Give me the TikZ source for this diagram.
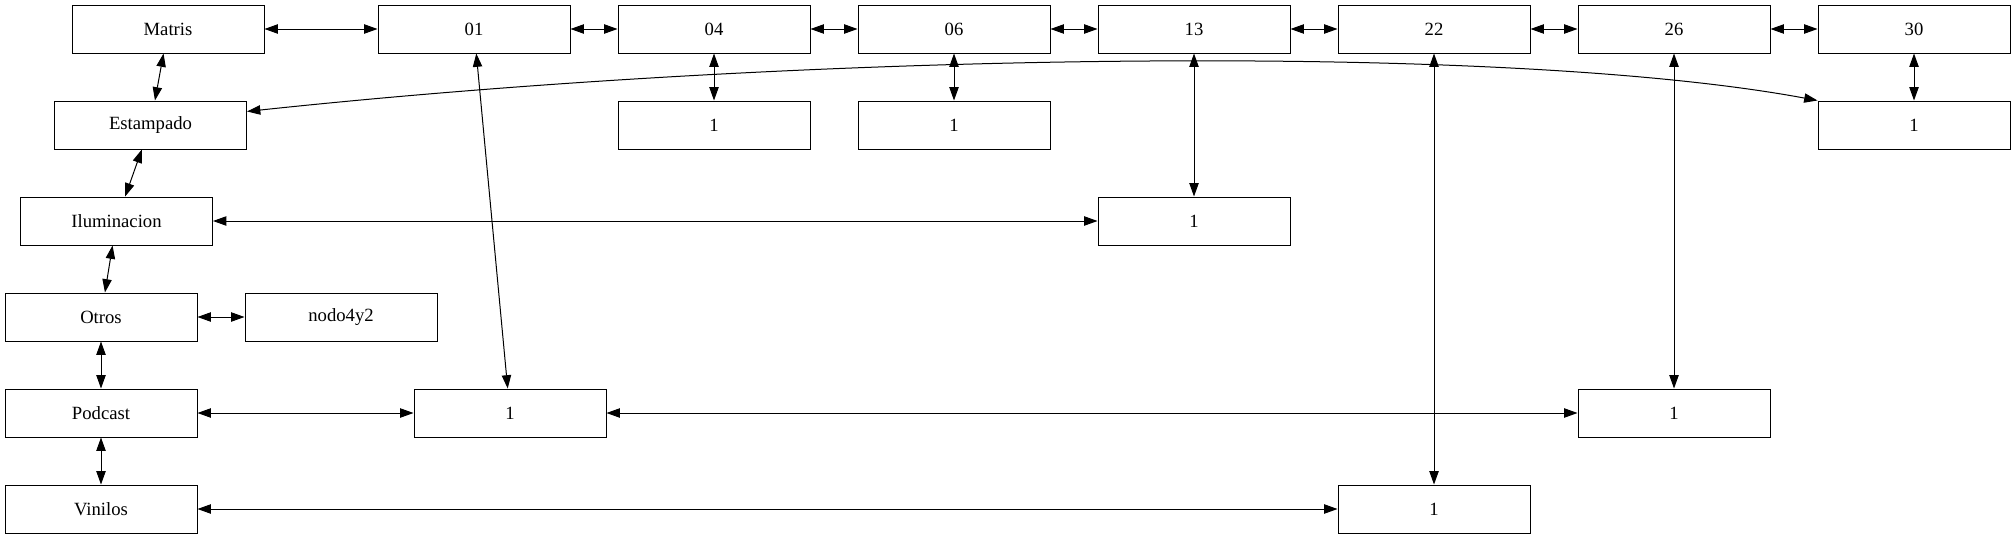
\documentclass[tikz,border=0pt]{standalone}
\usepackage{fontspec}
\setmainfont{Liberation Serif}
\usepackage{tikz}
\usetikzlibrary{arrows.meta}
\tikzset{
  box/.style={draw, line width=0.75pt, minimum width=144pt, minimum height=36pt, inner sep=0pt, font=\fontsize{14}{16}\selectfont},
  tip/.style={Triangle[length=10pt,width=7pt]},
  link/.style={draw, line width=0.75pt, {Triangle[length=10pt,width=7pt]}-{Triangle[length=10pt,width=7pt]}},
}
\begin{document}
\begin{tikzpicture}[x=0.75pt,y=-0.75pt]
  \useasboundingbox (0,0) rectangle (2016,539);
  % head row
  \node[box] (matris) at (168,29) {Matris};
  \foreach \n/\x in {01/474,04/714,06/954,13/1194,22/1434,26/1674,30/1914}
    \node[box] (c\n) at (\x,29) {\n};
  % row heads
  \node[box] (estampado) at (150.5,125) {Estampado};
  \node[box] (iluminacion) at (116.5,221) {Iluminacion};
  \node[box] (otros) at (101,317) {Otros};
  \node[box] (nodo) at (341,317) {nodo4y2};
  \node[box] (podcast) at (101,413) {Podcast};
  \node[box] (vinilos) at (101,509) {Vinilos};
  % values
  \foreach \n/\x/\y in {04/714/125,06/954/125,30/1914/125,13/1194/221,01/510/413,26/1674/413,22/1434/509}
    \node[box] (v\n) at (\x,\y) {1};
  % links
  \foreach \a/\b in {matris/c01,c01/c04,c04/c06,c06/c13,c13/c22,c22/c26,c26/c30,
                     matris/estampado,estampado/iluminacion,iluminacion/otros,otros/podcast,podcast/vinilos,
                     otros/nodo,c04/v04,c06/v06,c30/v30,c13/v13,iluminacion/v13,
                     c01/v01,podcast/v01,v01/v26,c26/v26,c22/v22,vinilos/v22}
    \draw[link] (\a) -- (\b);
  \draw[link] (estampado.8) .. controls +(553,-59) and +(-318,-59) .. (v30.north west);
\end{tikzpicture}
\end{document}
